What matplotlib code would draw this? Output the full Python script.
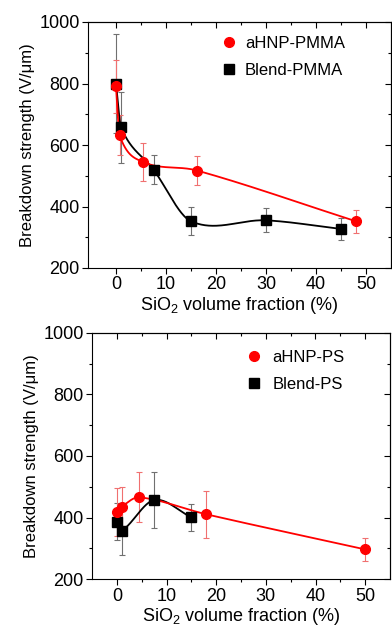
import numpy as np
import matplotlib
matplotlib.use('Agg')
import matplotlib.pyplot as plt

plt.rcParams['font.family'] = ['Liberation Sans', 'DejaVu Sans']
plt.rcParams['mathtext.fontset'] = 'custom'
plt.rcParams['mathtext.rm'] = 'Liberation Sans'
plt.rcParams['mathtext.it'] = 'Liberation Sans:italic'
plt.rcParams['font.size'] = 13

# top panel: PMMA
pmma_hnp_x = [0, 0.7, 5.4, 16.2, 48]
pmma_hnp_y = [791, 632, 545, 517, 352]
pmma_hnp_err = [87, 66, 63, 46, 37]
pmma_blend_x = [0, 1, 7.5, 15, 30, 45]
pmma_blend_y = [800, 657, 520, 352, 355, 327]
pmma_blend_err = [160, 114, 48, 45, 39, 35]

# bottom panel: PS
ps_hnp_x = [0, 1, 4.5, 18, 50]
ps_hnp_y = [419, 436, 466, 411, 297]
ps_hnp_err = [78, 62, 81, 77, 37]
ps_blend_x = [0, 1, 7.5, 15]
ps_blend_y = [387, 358, 457, 401]
ps_blend_err = [60, 79, 91, 43]

x_ticks = [0, 10, 20, 30, 40, 50]
y_ticks = [200, 400, 600, 800, 1000]


def smooth_curve(x, y, n=60):
    # cubic hermite through the points, catmull-rom style tangents
    x = np.asarray(x, float)
    y = np.asarray(y, float)
    k = len(x)
    t = np.zeros(k)
    t[0] = (y[1] - y[0]) / (x[1] - x[0])
    t[-1] = (y[-1] - y[-2]) / (x[-1] - x[-2])
    for i in range(1, k - 1):
        t[i] = (y[i + 1] - y[i - 1]) / (x[i + 1] - x[i - 1])
    xs_all, ys_all = [], []
    for i in range(k - 1):
        h = x[i + 1] - x[i]
        s = np.linspace(0, 1, n)
        h00 = 2 * s ** 3 - 3 * s ** 2 + 1
        h10 = s ** 3 - 2 * s ** 2 + s
        h01 = -2 * s ** 3 + 3 * s ** 2
        h11 = s ** 3 - s ** 2
        xs_all.append(x[i] + s * h)
        ys_all.append(h00 * y[i] + h10 * h * t[i] + h01 * y[i + 1] + h11 * h * t[i + 1])
    return np.concatenate(xs_all), np.concatenate(ys_all)


def draw_panel(ax, hnp, blend, labels, xlim, leg_anchor, leg_pad):
    for (x, y, err), color, ecolor, marker, ms, label in [
        (blend, 'black', '#707070', 's', 6.5, labels[1]),
        (hnp, '#ff0000', '#f07070', 'o', 7, labels[0]),
    ]:
        xs, ys = smooth_curve(x, y)
        ax.plot(xs, ys, color=color, lw=1.3, zorder=2)
        ax.errorbar(x, y, yerr=err, fmt='none', ecolor=ecolor, elinewidth=0.8,
                    capsize=2.5, capthick=0.8, zorder=1)
        ax.plot(x, y, linestyle='none', marker=marker, ms=ms, color=color,
                zorder=3, label=label)

    ax.set_xlim(*xlim)
    ax.set_ylim(200, 1000)
    ax.set_xticks(x_ticks)
    ax.set_yticks(y_ticks)
    ax.set_xticks(np.arange(5, 55, 10), minor=True)
    ax.set_yticks(np.arange(300, 1000, 200), minor=True)
    ax.tick_params(which='both', direction='out', top=False, right=False, width=0.8, pad=2)
    ax.tick_params(which='major', length=4)
    ax.tick_params(which='minor', length=2.5)
    sec = ax.secondary_xaxis('top')
    sec.set_xticks(x_ticks)
    sec.set_xticks(np.arange(5, 55, 10), minor=True)
    sec.tick_params(which='both', direction='in', labeltop=False, width=0.8)
    sec.tick_params(which='major', length=4)
    sec.tick_params(which='minor', length=2.5)
    secy = ax.secondary_yaxis('right')
    secy.set_yticks(y_ticks)
    secy.set_yticks(np.arange(300, 1000, 200), minor=True)
    secy.tick_params(which='both', direction='in', labelright=False, width=0.8)
    secy.tick_params(which='major', length=4)
    secy.tick_params(which='minor', length=2.5)
    for s in ax.spines.values():
        s.set_linewidth(0.8)
    ax.set_xlabel('SiO$_2$ volume fraction (%)', labelpad=1, fontsize=13)
    ax.set_ylabel('Breakdown strength (V/\u03bcm)', labelpad=3, fontsize=12)
    h, l = ax.get_legend_handles_labels()
    ax.legend(h[::-1], l[::-1], frameon=False, loc='upper left',
              bbox_to_anchor=leg_anchor, handlelength=1.0, handletextpad=leg_pad,
              labelspacing=0.75, borderaxespad=0, borderpad=0, fontsize=12)


fig = plt.figure(figsize=(3.92, 6.32), dpi=100)
ax1 = fig.add_axes([88 / 392, 1 - 268 / 632, 303 / 392, 246 / 632])
ax2 = fig.add_axes([92 / 392, 1 - 579.3 / 632, 298 / 392, 246.6 / 632])

draw_panel(ax1, (pmma_hnp_x, pmma_hnp_y, pmma_hnp_err),
           (pmma_blend_x, pmma_blend_y, pmma_blend_err),
           ['aHNP-PMMA', 'Blend-PMMA'], (-5.6, 55), (0.438, 0.945), 0.45)
draw_panel(ax2, (ps_hnp_x, ps_hnp_y, ps_hnp_err),
           (ps_blend_x, ps_blend_y, ps_blend_err),
           ['aHNP-PS', 'Blend-PS'], (-5.0, 55), (0.514, 0.931), 0.63)

fig.savefig('out.png', dpi=100)
